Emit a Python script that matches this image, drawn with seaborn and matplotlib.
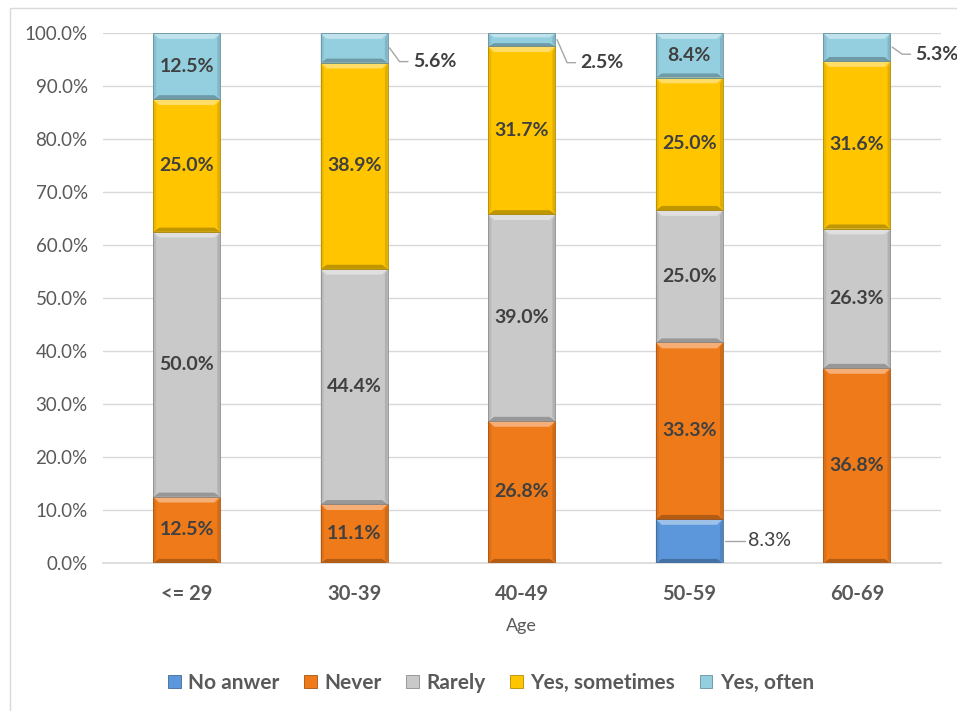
import numpy as np
import pandas as pd
import matplotlib
matplotlib.use("Agg")
import matplotlib.pyplot as plt
from matplotlib.patches import Polygon, Rectangle
from matplotlib.lines import Line2D
import matplotlib.colors as mcolors
import seaborn as sns

# ---- data (percent of respondents per age group) ----
ages = ["<= 29", "30-39", "40-49", "50-59", "60-69"]
series = ["No anwer", "Never", "Rarely", "Yes, sometimes", "Yes, often"]
no_answer = [0.0, 0.0, 0.0, 8.3, 0.0]
never = [12.5, 11.1, 26.8, 33.3, 36.8]
rarely = [50.0, 44.4, 39.0, 25.0, 26.3]
sometimes = [25.0, 38.9, 31.7, 25.0, 31.6]
often = [12.5, 5.6, 2.5, 8.4, 5.3]
y_ticks = [0, 10, 20, 30, 40, 50, 60, 70, 80, 90, 100]

colors = ["#5B97DA", "#EE7A1A", "#C9C9C9", "#FFC600", "#94CFE0"]
text_c = "#404040"
tick_c = "#595959"

values = [no_answer, never, rarely, sometimes, often]

sns.set_theme(style="white")
plt.rcParams["font.family"] = ["Lato", "DejaVu Sans"]

fig = plt.figure(figsize=(9.57, 7.11), dpi=100)
ax = fig.add_axes([0.1076, 0.2082, 0.8754, 0.7454])

# cumulative tops, drawn from the tallest layer down so lower layers overlay
cum = np.cumsum(np.array(values), axis=0)
df = pd.DataFrame({"age": ages})
for i in range(len(series) - 1, -1, -1):
    df["top"] = cum[i]
    sns.barplot(data=df, x="age", y="top", order=ages, color=colors[i],
                width=0.4, saturation=1, ax=ax, zorder=2, linewidth=0)

ax.set_xlim(-0.5, 4.5)
ax.set_ylim(0, 100)

# bevel shading on every stacked segment
def shade(c, f):
    r, g, b = mcolors.to_rgb(c)
    if f > 0:
        return (r + (1 - r) * f, g + (1 - g) * f, b + (1 - b) * f)
    return (r * (1 + f), g * (1 + f), b * (1 + f))

bx, by = 0.035, 1.1
w = 0.4
for i, vals in enumerate(values):
    for j, v in enumerate(vals):
        if v <= 0:
            continue
        x0, x1 = j - w / 2, j + w / 2
        y0 = cum[i][j] - v
        y1 = cum[i][j]
        b_y = min(by, v / 3)
        c = colors[i]
        ax.add_patch(Polygon([(x0, y1), (x1, y1), (x1 - bx, y1 - b_y), (x0 + bx, y1 - b_y)],
                             closed=True, facecolor=shade(c, 0.4), edgecolor="none", zorder=3))
        ax.add_patch(Polygon([(x0, y0), (x1, y0), (x1 - bx, y0 + b_y * 0.7), (x0 + bx, y0 + b_y * 0.7)],
                             closed=True, facecolor=shade(c, -0.25), edgecolor="none", zorder=3))
        ax.add_patch(Polygon([(x0, y0), (x0 + bx * 0.5, y0 + b_y * 0.7), (x0 + bx * 0.5, y1 - b_y), (x0, y1)],
                             closed=True, facecolor=shade(c, -0.08), edgecolor="none", zorder=3))
        ax.add_patch(Polygon([(x1, y0), (x1 - bx * 0.5, y0 + b_y * 0.7), (x1 - bx * 0.5, y1 - b_y), (x1, y1)],
                             closed=True, facecolor=shade(c, -0.12), edgecolor="none", zorder=3))
        ax.add_patch(Rectangle((x0, y0), w, v, facecolor="none",
                               edgecolor=shade(c, -0.3), linewidth=0.6, zorder=4))

# value labels
outside = {(4, 1): (94.6, True), (4, 2): (94.4, True),
           (4, 4): (96.0, True), (0, 3): (4.15, False)}
for i, vals in enumerate(values):
    for j, v in enumerate(vals):
        if v <= 0:
            continue
        mid = cum[i][j] - v / 2
        key = (i, j)
        if key in outside:
            ty, bold = outside[key]
            xe = j + w / 2
            if abs(ty - mid) < 0.5:
                ax.plot([xe + 0.01, xe + 0.13], [mid, mid], color="#A6A6A6", lw=1, zorder=5, clip_on=False)
            else:
                ax.plot([xe + 0.01, xe + 0.07, xe + 0.12], [mid, ty, ty], color="#A6A6A6",
                        lw=1, zorder=5, clip_on=False)
            ax.text(xe + 0.15, ty, f"{v:.1f}%", ha="left", va="center", fontsize=14,
                    fontweight="bold" if bold else "normal", color=text_c, zorder=6, clip_on=False)
        else:
            ax.text(j, mid, f"{v:.1f}%", ha="center", va="center", fontsize=14,
                    fontweight="bold", color=text_c, zorder=6)

# axes styling
ax.set_yticks(y_ticks)
ax.set_yticklabels([f"{t:.1f}%" for t in y_ticks], fontsize=13.5, color=tick_c)
ax.set_xticks(range(len(ages)))
ax.set_xticklabels(ages, fontsize=14.5, fontweight="bold", color=tick_c)
ax.grid(axis="y", color="#D9D9D9", linewidth=1, zorder=0)
ax.set_axisbelow(True)
for s in ["left", "right", "top"]:
    ax.spines[s].set_visible(False)
ax.spines["bottom"].set_color("#D9D9D9")
ax.spines["bottom"].set_linewidth(1.2)
ax.tick_params(axis="y", length=0, pad=11)
ax.tick_params(axis="x", length=0, pad=15)
ax.set_xlabel("Age", fontsize=13, color=tick_c, labelpad=10)
ax.set_ylabel("")

# legend
handles = [Rectangle((0, 0), 1, 1, facecolor=colors[k], edgecolor=shade(colors[k], -0.3), linewidth=0.6)
           for k in range(len(series))]
leg = fig.legend(handles, series, loc="center", bbox_to_anchor=(0.513, 0.040), ncol=5, frameon=False,
                 prop={"weight": "bold", "size": 15}, handlelength=0.6, handleheight=0.6,
                 handletextpad=0.35, columnspacing=1.2, labelcolor=tick_c)

# chart frame
fig.add_artist(Line2D([10 / 957, 1], [1 - 8 / 711, 1 - 8 / 711], color="#D9D9D9", lw=1,
                      transform=fig.transFigure))
fig.add_artist(Line2D([10 / 957, 10 / 957], [0, 1 - 8 / 711], color="#D9D9D9", lw=1,
                      transform=fig.transFigure))

fig.savefig("out.png", dpi=100)
